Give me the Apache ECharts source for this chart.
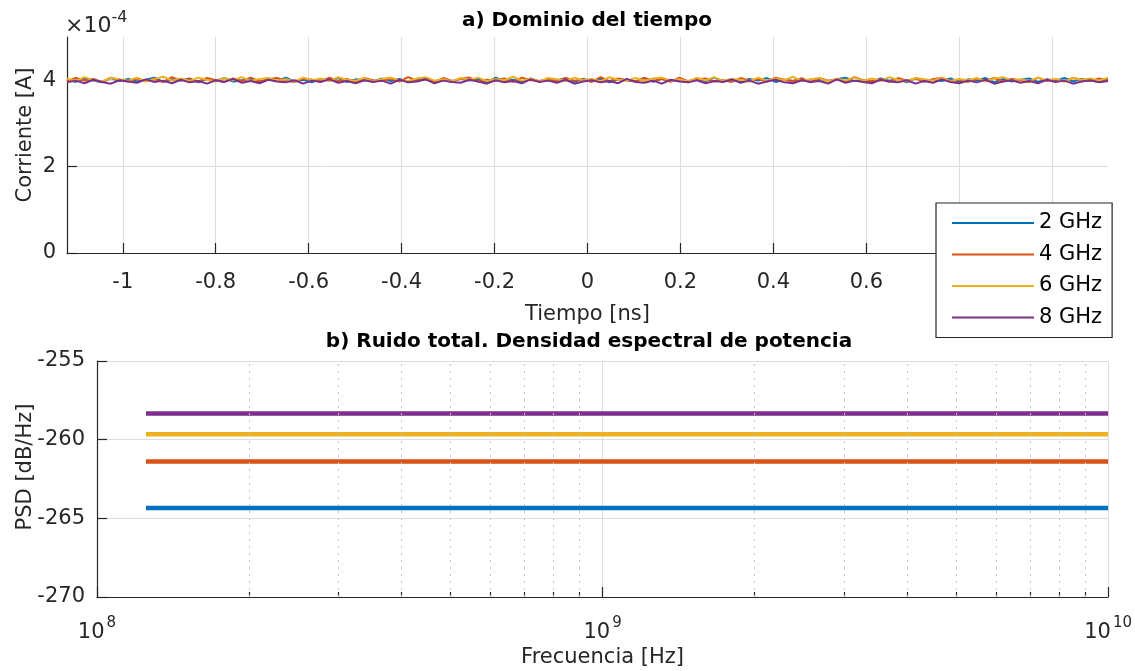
<!DOCTYPE html>
<html>
<head>
<meta charset="utf-8">
<script src="https://cdn.jsdelivr.net/npm/echarts@6/dist/echarts.min.js"></script>
<style>html,body{margin:0;padding:0;background:#fff}#c{width:1135px;height:671px}</style>
</head>
<body>
<div id="c"></div>
<script>
// ---------- data ----------
const seriesNames = ['2 GHz', '4 GHz', '6 GHz', '8 GHz'];
const colors = ['#0072BD', '#D95319', '#EDB120', '#7E2F8E'];

// a) time domain: time span [ns] and current samples (units of 1e-4 A)
const timeRange = [-1.12, 1.12];
const timeTicks = [-1, -0.8, -0.6, -0.4, -0.2, 0, 0.2, 0.4, 0.6, 0.8, 1];
const currentTicks = [0, 2, 4];
const current2G = [
4.02,3.96,4.04,3.99,3.95,4.05,3.98,4.03,3.97,4.01,4.06,3.96,4.02,3.99,4.04,3.95,4.03,3.98,4.05,3.97,
4.00,4.04,3.96,4.02,3.98,4.06,3.97,4.01,3.95,4.03,3.99,4.05,3.96,4.02,4.00,3.97,4.04,3.98,4.03,3.95,
4.01,4.05,3.97,4.02,3.96,4.04,3.99,4.03,3.95,4.06,3.98,4.01,3.96,4.04,3.97,4.02,3.99,4.05,3.96,4.03,
3.98,4.04,3.95,4.02,4.00,3.97,4.05,3.96,4.03,3.99,4.01,3.95,4.04,3.98,4.06,3.97,4.02,3.96,4.03,3.99,
4.05,3.96,4.01,3.98,4.04,3.95,4.03,3.97,4.02,4.06,3.98,4.00,3.96,4.04,3.99,4.03,3.95,4.05,3.97,4.01,
3.98,4.04,3.96,4.02,3.99,4.05,3.95,4.03,3.97,4.01,4.04,3.96,4.02,3.98,4.05,3.97,4.03,3.99,3.96,4.02];
const current4G = [
3.97,4.05,3.99,4.03,3.96,4.06,4.00,3.97,4.04,3.98,4.02,3.96,4.07,3.99,4.03,3.97,4.05,4.00,3.96,4.04,
3.98,4.06,3.97,4.02,4.05,3.99,3.96,4.04,4.01,3.97,4.06,3.98,4.03,3.96,4.05,4.00,3.98,4.04,3.97,4.07,
3.99,4.02,3.96,4.05,3.98,4.03,4.06,3.97,4.01,3.99,4.04,3.96,4.06,4.00,3.98,4.03,3.97,4.05,3.99,4.02,
3.96,4.07,3.98,4.04,4.00,3.97,4.05,3.99,4.03,3.96,4.06,3.98,4.02,4.04,3.97,4.00,3.96,4.05,3.99,4.03,
3.97,4.06,4.01,3.98,4.04,3.96,4.05,3.99,4.02,3.97,4.07,4.00,3.98,4.03,3.96,4.05,3.99,4.04,3.97,4.02,
4.06,3.98,4.01,3.96,4.04,3.99,4.05,3.97,4.03,4.00,3.96,4.06,3.98,4.02,3.97,4.05,4.01,3.98,4.04,3.99];
const current6G = [
4.04,3.98,4.07,4.00,3.97,4.05,4.02,3.99,4.06,3.97,4.03,4.08,3.99,4.04,3.98,4.06,4.01,3.97,4.05,4.00,
4.07,3.98,4.03,4.05,3.99,4.02,3.97,4.06,4.00,4.04,3.98,4.07,4.01,3.99,4.05,3.97,4.03,4.06,4.00,3.98,
4.04,4.07,3.99,4.02,3.97,4.05,4.01,4.06,3.98,4.03,4.00,4.08,3.99,4.04,3.97,4.05,4.02,3.98,4.06,4.00,
4.03,3.97,4.07,4.01,3.99,4.05,3.98,4.04,4.06,3.99,4.02,3.97,4.05,4.00,4.07,3.98,4.03,4.01,3.97,4.06,
3.99,4.04,4.00,4.08,3.98,4.02,4.05,3.97,4.03,4.00,4.06,3.99,4.04,3.98,4.07,4.01,3.97,4.05,4.02,3.99,
4.06,3.98,4.03,4.00,4.05,3.97,4.04,4.07,3.99,4.02,3.98,4.06,4.00,4.03,3.97,4.05,4.01,4.04,3.99,4.06];
const current8G = [
3.95,3.99,3.93,4.01,3.96,3.92,4.00,3.97,3.94,4.02,3.96,3.99,3.93,4.01,3.95,3.98,3.92,4.00,3.96,4.03,
3.94,3.98,3.93,4.01,3.97,3.95,4.00,3.92,3.99,3.96,4.02,3.94,3.98,3.93,4.00,3.96,3.99,3.92,4.01,3.95,
3.97,4.02,3.93,3.99,3.96,3.94,4.01,3.97,3.92,4.00,3.95,3.98,3.93,4.02,3.96,3.99,3.94,4.01,3.92,3.97,
4.00,3.95,3.98,3.93,4.03,3.96,3.94,3.99,3.92,4.01,3.97,3.95,4.00,3.93,3.98,3.96,4.02,3.94,3.99,3.92,
3.97,4.01,3.95,3.93,4.00,3.96,3.98,3.92,4.02,3.94,3.99,3.96,3.93,4.01,3.97,3.95,4.00,3.92,3.98,3.94,
4.02,3.96,3.93,3.99,3.95,4.01,3.92,3.97,4.00,3.94,3.98,3.93,4.01,3.96,3.99,3.92,3.97,4.00,3.95,3.98];

// b) PSD: frequency [Hz] and noise level [dB/Hz]
const freqs = [1.25e8, 2.5e8, 5e8, 1e9, 2e9, 4e9, 8e9, 1e10];
const psd2G = [-264.35,-264.35,-264.35,-264.35,-264.35,-264.35,-264.35,-264.35];
const psd4G = [-261.38,-261.38,-261.38,-261.38,-261.38,-261.38,-261.38,-261.38];
const psd6G = [-259.65,-259.65,-259.65,-259.65,-259.65,-259.65,-259.65,-259.65];
const psd8G = [-258.33,-258.33,-258.33,-258.33,-258.33,-258.33,-258.33,-258.33];
const minorFreqs = [2e8,3e8,4e8,5e8,6e8,7e8,8e8,9e8,2e9,3e9,4e9,5e9,6e9,7e9,8e9,9e9];
const psdRange = [-270, -255];

// ---------- build ----------
const FONT = 'DejaVu Sans';
const INK = '#262626';
const currents = [current2G, current4G, current6G, current8G];
const psds = [psd2G, psd4G, psd6G, psd8G];
function timeData(arr) {
  const n = arr.length;
  return arr.map((v, i) => [timeRange[0] + (timeRange[1] - timeRange[0]) * i / (n - 1), v]);
}
const axisLine = { show: true, onZero: false, lineStyle: { color: INK, width: 1.2 } };
const gridLine = { show: true, lineStyle: { color: '#dddddd', width: 1 } };
const tickStyle = { show: true, inside: true, length: 10, lineStyle: { color: INK, width: 1.2 } };
const labelStyle = { color: INK, fontSize: 21, fontFamily: FONT };
const nameStyle = { fontSize: 21, color: INK, fontFamily: FONT };

const series = [];
seriesNames.forEach((name, i) => {
  series.push({
    name, type: 'line', xAxisIndex: 0, yAxisIndex: 0,
    data: timeData(currents[i]), symbol: 'none',
    lineStyle: { width: 2, color: colors[i] }, itemStyle: { color: colors[i] },
    animation: false, z: 2
  });
});
seriesNames.forEach((name, i) => {
  const s = {
    name, type: 'line', xAxisIndex: 1, yAxisIndex: 1,
    data: freqs.map((f, k) => [f, psds[i][k]]), symbol: 'none',
    lineStyle: { width: 4.5, color: colors[i] }, itemStyle: { color: colors[i] },
    animation: false, z: 3
  };
  if (i === 0) {
    s.markLine = {
      silent: true, symbol: 'none', animation: false, label: { show: false },
      lineStyle: { color: '#c4c4c4', type: [2, 5], width: 1 },
      data: minorFreqs.map(f => ({ xAxis: f }))
    };
  }
  series.push(s);
});
// minor ticks on the log axis
series.push({
  type: 'lines', coordinateSystem: 'cartesian2d', xAxisIndex: 1, yAxisIndex: 1,
  silent: true, animation: false, z: 4,
  lineStyle: { color: INK, width: 1.2, opacity: 1 },
  data: minorFreqs.map(f => ({ coords: [[f, psdRange[0]], [f, psdRange[0] + 0.32]] }))
});

const option = {
  backgroundColor: '#fff',
  animation: false,
  textStyle: { fontFamily: FONT },
  title: [
    { text: 'a) Dominio del tiempo', left: 582, top: 6, textAlign: 'center',
      textStyle: { fontSize: 20, fontWeight: 'bold', color: '#000', fontFamily: FONT } },
    { text: 'b) Ruido total. Densidad espectral de potencia', left: 584, top: 327, textAlign: 'center',
      textStyle: { fontSize: 20, fontWeight: 'bold', color: '#000', fontFamily: FONT } },
    { text: '{a|×10}{b|-4}', left: 65, top: 10, padding: 0,
      textStyle: {
        fontFamily: FONT, fontWeight: 'normal', fontSize: 22,
        rich: {
          a: { fontSize: 22, color: INK, fontFamily: FONT, lineHeight: 27, verticalAlign: 'bottom' },
          b: { fontSize: 16, color: INK, fontFamily: FONT, lineHeight: 27, verticalAlign: 'top' }
        }
      } }
  ],
  legend: {
    data: seriesNames.map(n => ({ name: n, icon: 'rect' })),
    orient: 'vertical', left: 936, top: 203,
    backgroundColor: '#fff', borderColor: INK, borderWidth: 1.2,
    padding: [9, 10, 9, 16], itemWidth: 82, itemHeight: 2, itemGap: 9.5,
    textStyle: { fontSize: 21, color: '#000', fontFamily: FONT, lineHeight: 22 },
    z: 10, selectedMode: false
  },
  grid: [
    { left: 67, right: 27, top: 37, height: 216, containLabel: false },
    { left: 97, right: 25, top: 361, height: 236, containLabel: false }
  ],
  xAxis: [
    {
      gridIndex: 0, type: 'value', min: timeRange[0], max: timeRange[1],
      name: 'Tiempo [ns]', nameLocation: 'middle', nameGap: 51, nameMoveOverlap: false,
      nameTextStyle: nameStyle,
      axisLine, splitLine: gridLine,
      axisTick: Object.assign({}, tickStyle, { customValues: timeTicks }),
      axisLabel: Object.assign({}, labelStyle, { margin: 19, customValues: timeTicks,
        formatter: v => String(Math.round(v * 10) / 10) })
    },
    {
      gridIndex: 1, type: 'log', logBase: 10, min: 1e8, max: 1e10,
      name: 'Frecuencia [Hz]', nameLocation: 'middle', nameGap: 50, nameMoveOverlap: false,
      nameTextStyle: nameStyle,
      axisLine, splitLine: gridLine, axisTick: tickStyle,
      axisLabel: {
        margin: 19, color: INK, fontFamily: FONT,
        formatter: v => '{b|10}{s|' + Math.round(Math.log10(v)) + '}',
        rich: {
          b: { fontSize: 21, color: INK, fontFamily: FONT, lineHeight: 27.5, verticalAlign: 'bottom' },
          s: { fontSize: 15, color: INK, fontFamily: FONT, lineHeight: 27.5, verticalAlign: 'top', padding: [0, 0, 0, 2] }
        }
      }
    }
  ],
  yAxis: [
    {
      gridIndex: 0, type: 'value', min: 0, max: 5, interval: 1,
      name: 'Corriente [A]', nameLocation: 'middle', nameGap: 31, nameMoveOverlap: false,
      nameTextStyle: Object.assign({}, nameStyle, { padding: [0, 0, 0, 20] }),
      axisLine, splitLine: gridLine,
      axisTick: Object.assign({}, tickStyle, { customValues: currentTicks }),
      axisLabel: Object.assign({}, labelStyle, { margin: 11, customValues: currentTicks })
    },
    {
      gridIndex: 1, type: 'value', min: psdRange[0], max: psdRange[1], interval: 5,
      name: 'PSD [dB/Hz]', nameLocation: 'middle', nameGap: 61, nameMoveOverlap: false,
      nameTextStyle: Object.assign({}, nameStyle, { padding: [0, 0, 0, 24] }),
      axisLine, splitLine: gridLine, axisTick: tickStyle,
      axisLabel: Object.assign({}, labelStyle, { margin: 12 })
    }
  ],
  series
};
const chart = echarts.init(document.getElementById('c'), null, { renderer: 'canvas' });
chart.setOption(option);
</script>
</body>
</html>
